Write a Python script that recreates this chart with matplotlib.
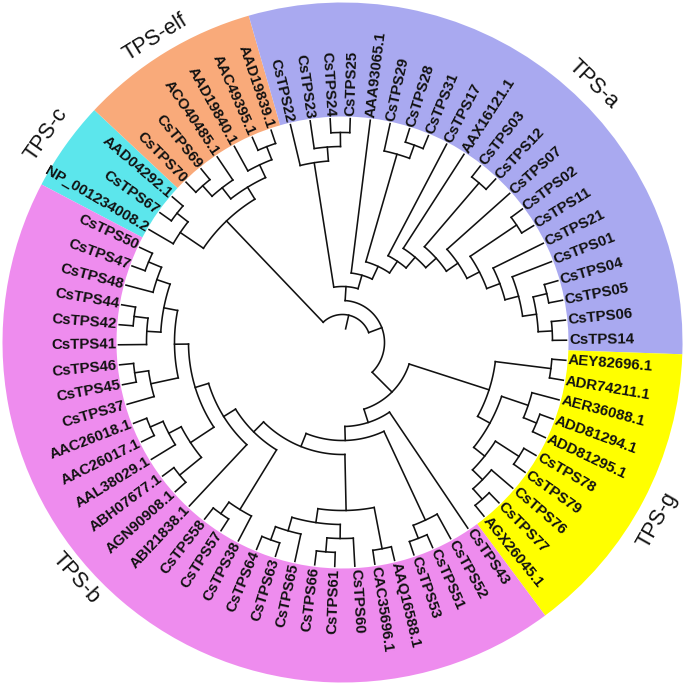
import numpy as np
import matplotlib
matplotlib.use("Agg")
import matplotlib.pyplot as plt
from matplotlib.patches import Wedge

# ---------------- data ----------------
leaves_c = ["NP_001234008.2", "CsTPS67", "AAD04292.1"]
leaves_ef = ["CsTPS70", "CsTPS69", "ACO40485.1", "AAD19840.1", "AAC49395.1", "AAD19839.1"]
leaves_a = ["CsTPS22", "CsTPS23", "CsTPS24", "CsTPS25", "AAA93065.1", "CsTPS29", "CsTPS28",
            "CsTPS31", "CsTPS17", "AAX16121.1", "CsTPS03", "CsTPS12", "CsTPS07", "CsTPS02",
            "CsTPS11", "CsTPS21", "CsTPS01", "CsTPS04", "CsTPS05", "CsTPS06", "CsTPS14"]
leaves_g = ["AEY82696.1", "ADR74211.1", "AER36088.1", "ADD81294.1", "ADD81295.1", "CsTPS78",
            "CsTPS79", "CsTPS76", "CsTPS77", "AGX26045.1"]
leaves_b = ["CsTPS43", "CsTPS52", "CsTPS51", "CsTPS53", "AAQ16588.1", "CAC35696.1", "CsTPS60",
            "CsTPS61", "CsTPS66", "CsTPS65", "CsTPS63", "CsTPS64", "CsTPS38", "CsTPS57",
            "CsTPS58", "ABI21838.1", "AGN90908.1", "ABH07677.1", "AAL38029.1", "AAC26017.1",
            "AAC26018.1", "CsTPS37", "CsTPS45", "CsTPS46", "CsTPS41", "CsTPS42", "CsTPS44",
            "CsTPS48", "CsTPS47", "CsTPS50"]

group_names = ["TPS-c", "TPS-elf", "TPS-a", "TPS-g", "TPS-b"]
group_leaves = [leaves_c, leaves_ef, leaves_a, leaves_g, leaves_b]
group_colors = ["#5CE6EC", "#F9AA7A", "#A9A9F0", "#FFFF00", "#EE8CEE"]
# label placement (angle deg, radius px, rotation deg)
group_label_pos = [(145.0, 362, 55), (121.5, 358, 31.5), (45.9, 360, -44),
                   (-29.5, 362, 60.5), (-138.5, 356, -48.5)]

# tree topology (children listed clockwise)
clade_c = ["NP_001234008.2", ["CsTPS67", "AAD04292.1"]]
clade_ef = [[["CsTPS70", "CsTPS69"], "ACO40485.1"], ["AAD19840.1", ["AAC49395.1", "AAD19839.1"]]]
clade_ce = [clade_c, clade_ef]

a1 = [["CsTPS04", "CsTPS05"], ["CsTPS06", "CsTPS14"]]
a2 = ["CsTPS01", a1]
a3 = ["CsTPS21", a2]
a4 = [["CsTPS02", "CsTPS11"], a3]
a5 = ["CsTPS07", a4]
a6 = [["CsTPS03", "CsTPS12"], a5]
a7 = ["AAX16121.1", a6]
a8 = ["CsTPS17", a7]
a9 = [["CsTPS29", ["CsTPS28", "CsTPS31"]], a8]
a10 = ["AAA93065.1", a9]
clade_a = [["CsTPS22", ["CsTPS23", ["CsTPS24", "CsTPS25"]]], a10]

clade_g = [["AEY82696.1", "ADR74211.1"],
           [["AER36088.1", ["ADD81294.1", "ADD81295.1"]],
            [["CsTPS78", "CsTPS79"], ["CsTPS76", ["CsTPS77", "AGX26045.1"]]]]]

b_left = [["CsTPS37", ["CsTPS45", "CsTPS46"]],
          [["CsTPS41", ["CsTPS42", "CsTPS44"]], ["CsTPS48", ["CsTPS47", "CsTPS50"]]]]
b_mid = [["AGN90908.1", "ABH07677.1"], ["AAL38029.1", ["AAC26017.1", "AAC26018.1"]]]
b_t5 = [b_mid, b_left]
b_t6 = ["ABI21838.1", b_t5]
b_v7 = [["CsTPS38", ["CsTPS57", "CsTPS58"]], b_t6]
b_bb = [["AAQ16588.1", "CAC35696.1"],
        [["CsTPS60", ["CsTPS61", "CsTPS66"]], ["CsTPS65", ["CsTPS63", "CsTPS64"]]]]
b_z3 = [b_bb, b_v7]
b_z2 = [["CsTPS52", ["CsTPS51", "CsTPS53"]], b_z3]
clade_b = ["CsTPS43", b_z2]

tree = [clade_ce, [clade_a, [clade_g, clade_b]]]

# ---------------- layout ----------------
leaves = leaves_c + leaves_ef + leaves_a + leaves_g + leaves_b
N = len(leaves)
DA = 360.0 / N
START = 152.3
R_LEAF = 224.0
STEP = 14.0
leaf_angle = {name: START - (i + 0.5) * DA for i, name in enumerate(leaves)}


def height(node):
    if isinstance(node, str):
        return 0
    return 1 + max(height(c) for c in node)


def angle(node):
    if isinstance(node, str):
        return leaf_angle[node]
    return 0.5 * (angle(node[0]) + angle(node[-1]))


def radius(node):
    if isinstance(node, str):
        return R_LEAF
    return R_LEAF - STEP * height(node)


fig = plt.figure(figsize=(6.85, 6.85), dpi=100)
ax = fig.add_axes([0, 0, 1, 1])
ax.set_xlim(-342.5, 342.5)
ax.set_ylim(-342.5, 342.5)
ax.set_aspect("equal")
ax.axis("off")

# colored sectors
i0 = 0
for name, lv, col in zip(group_names, group_leaves, group_colors):
    t_hi = START - i0 * DA
    t_lo = START - (i0 + len(lv)) * DA
    ax.add_patch(Wedge((0, 0), 340, t_lo, t_hi, width=340 - 226, facecolor=col,
                       edgecolor="none", zorder=0))
    i0 += len(lv)

LW = 1.15
LC = "#111111"


def pol(r, a):
    t = np.deg2rad(a)
    return r * np.cos(t), r * np.sin(t)


def draw(node):
    if isinstance(node, str):
        return
    r = radius(node)
    angs = [angle(c) for c in node]
    t = np.linspace(min(angs), max(angs), 100)
    x, y = pol(r, t)
    ax.plot(x, y, color=LC, lw=LW, solid_capstyle="projecting", zorder=2)
    for c, a in zip(node, angs):
        rc = radius(c)
        x0, y0 = pol(r, a)
        x1, y1 = pol(rc, a)
        ax.plot([x0, x1], [y0, y1], color=LC, lw=LW, solid_capstyle="projecting", zorder=2)
        draw(c)


draw(tree)
ra = angle(tree)
rr = radius(tree)
x0, y0 = pol(rr, ra)
x1, y1 = pol(rr - STEP, ra)
ax.plot([x0, x1], [y0, y1], color=LC, lw=LW, zorder=2)

# leaf labels
FS = 10.8
for name in leaves:
    a = leaf_angle[name]
    x, y = pol(R_LEAF + 2.5, a)
    an = (a + 180) % 360 - 180
    if -90 <= an <= 90:
        ax.text(x, y, name, rotation=an, ha="left", va="center", rotation_mode="anchor",
                fontsize=FS, fontweight="bold", family="Liberation Sans", color="#111111")
    else:
        ax.text(x, y, name, rotation=an + 180, ha="right", va="center", rotation_mode="anchor",
                fontsize=FS, fontweight="bold", family="Liberation Sans", color="#111111")

# group labels
for name, (a, r, rot) in zip(group_names, group_label_pos):
    x, y = pol(r, a)
    ax.text(x, y, name, rotation=rot, ha="center", va="center", rotation_mode="anchor",
            fontsize=15.5, family="Liberation Sans", color="#111111")

fig.savefig("out.png", dpi=100)
